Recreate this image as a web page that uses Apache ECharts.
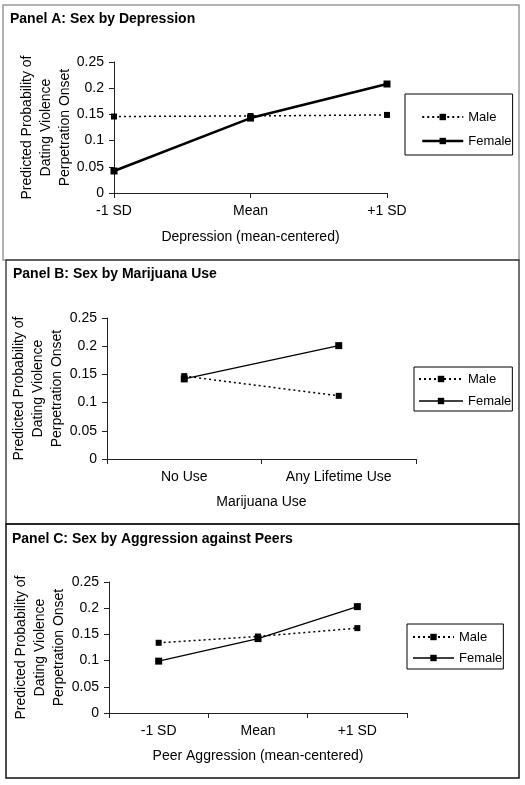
<!DOCTYPE html>
<html>
<head>
<meta charset="utf-8">
<script src="https://cdn.jsdelivr.net/npm/echarts@6/dist/echarts.min.js"></script>
<style>
html,body{margin:0;padding:0;background:#fff;}
#c{width:525px;height:785px;}
</style>
</head>
<body>
<div id="c"></div>
<script>
var seriesNames = ['Male', 'Female'];
var yAxisTitle = 'Predicted Probability of\nDating Violence\nPerpetration Onset';

var titleA = 'Panel A: Sex by Depression';
var xTitleA = 'Depression (mean-centered)';
var catsA = ['-1 SD', 'Mean', '+1 SD'];
var maleA = [0.146, 0.147, 0.149];
var femaleA = [0.042, 0.143, 0.208];

var titleB = 'Panel B: Sex by Marijuana Use';
var xTitleB = 'Marijuana Use';
var catsB = ['No Use', 'Any Lifetime Use'];
var maleB = [0.147, 0.112];
var femaleB = [0.142, 0.201];

var titleC = 'Panel C: Sex by Aggression against Peers';
var xTitleC = 'Peer Aggression (mean-centered)';
var catsC = ['-1 SD', 'Mean', '+1 SD'];
var maleC = [0.134, 0.146, 0.162];
var femaleC = [0.099, 0.142, 0.203];

var yMin = 0, yMax = 0.25, yStep = 0.05;

var FONT = '"Liberation Sans", Arial, sans-serif';
var axisColor = '#222';

function xAx(idx, cats, name, gap, boundary) {
  return {
    type: 'category', gridIndex: idx, data: cats, boundaryGap: boundary,
    name: name, nameLocation: 'middle', nameGap: gap, nameMoveOverlap: false,
    nameTextStyle: {fontFamily: FONT, fontSize: 14, color: '#000'},
    axisLine: {lineStyle: {color: axisColor, width: 1}},
    axisTick: {show: true, length: 5, inside: false, lineStyle: {color: axisColor}},
    axisLabel: {fontFamily: FONT, fontSize: 14, color: '#000', margin: 11},
    splitLine: {show: false}
  };
}
function yAx(idx, gap) {
  return {
    type: 'value', gridIndex: idx, min: yMin, max: yMax, interval: yStep,
    name: yAxisTitle, nameLocation: 'middle', nameGap: gap, nameRotate: 90, nameMoveOverlap: false,
    nameTextStyle: {fontFamily: FONT, fontSize: 14, color: '#000', lineHeight: 19, align: 'center'},
    axisLine: {show: true, lineStyle: {color: axisColor, width: 1}},
    axisTick: {show: true, length: 5, lineStyle: {color: axisColor}},
    axisLabel: {fontFamily: FONT, fontSize: 14, color: '#000', margin: 10},
    splitLine: {show: false}
  };
}
function maleS(idx, data) {
  return {
    name: seriesNames[0], type: 'line', xAxisIndex: idx, yAxisIndex: idx, data: data,
    symbol: 'rect', symbolSize: 6, itemStyle: {color: '#000'},
    lineStyle: {color: '#000', width: 1.5, type: [2, 3]}, animation: false
  };
}
function femaleS(idx, data, w) {
  return {
    name: seriesNames[1], type: 'line', xAxisIndex: idx, yAxisIndex: idx, data: data,
    symbol: 'rect', symbolSize: 7, itemStyle: {color: '#000'},
    lineStyle: {color: '#000', width: w, type: 'solid'}, animation: false
  };
}
function leg(left, top, pad, gap, iw, fw) {
  return {
    left: left, top: top, orient: 'vertical', padding: pad, itemGap: gap,
    itemWidth: iw, itemHeight: 8,
    borderColor: '#000', borderWidth: 1, borderRadius: 0,
    textStyle: {fontFamily: FONT, fontSize: 13, color: '#000', lineHeight: 16},
    data: [{name: 'Male'}, {name: 'Female', lineStyle: {width: fw}}],
    selectedMode: false
  };
}
function ttl(text, left, top) {
  return {text: text, left: left, top: top, padding: 0,
    textStyle: {fontFamily: FONT, fontSize: 14, fontWeight: 'bold', color: '#000'}};
}

var chart = echarts.init(document.getElementById('c'), null, {renderer: 'canvas'});
chart.setOption({
  backgroundColor: '#fff',
  animation: false,
  title: [ttl(titleA, 10, 12), ttl(titleB, 13, 267), ttl(titleC, 12, 532)],
  grid: [
    {left: 114, top: 62, width: 273, height: 131},
    {left: 107, top: 318, width: 309, height: 141},
    {left: 109, top: 582, width: 298, height: 131}
  ],
  xAxis: [xAx(0, catsA, xTitleA, 37, false), xAx(1, catsB, xTitleB, 36, true), xAx(2, catsC, xTitleC, 36, true)],
  yAxis: [yAx(0, 39), yAx(1, 40), yAx(2, 40)],
  legend: [
    leg(405, 94, [15, 1, 6, 16], 8, 41, 2.5),
    leg(414, 367, [4, 1, 2, 4], 6, 44, 1.3),
    leg(407, 624, [5, 1, 3, 5], 5, 41, 1.3)
  ],
  series: [
    maleS(0, maleA), femaleS(0, femaleA, 2.5),
    maleS(1, maleB), femaleS(1, femaleB, 1.3),
    maleS(2, maleC), femaleS(2, femaleC, 1.3)
  ],
  graphic: [
    {type: 'rect', shape: {x: 3, y: 5, width: 516, height: 255}, style: {fill: null, stroke: '#999', lineWidth: 1.5}, silent: true},
    {type: 'rect', shape: {x: 6, y: 260, width: 513, height: 264}, style: {fill: null, stroke: '#444', lineWidth: 1.5}, silent: true},
    {type: 'rect', shape: {x: 6, y: 524, width: 513, height: 254}, style: {fill: null, stroke: '#111', lineWidth: 1.5}, silent: true}
  ]
});
</script>
</body>
</html>
